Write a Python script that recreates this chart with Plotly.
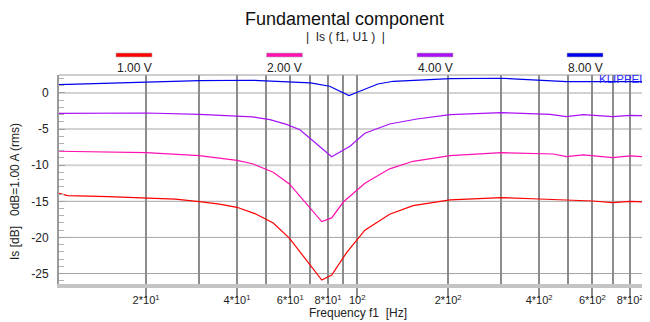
import math
import plotly.graph_objects as go

# ---------------- data ----------------
voltages = ["1.00 V", "2.00 V", "4.00 V", "8.00 V"]

freq_1v = [10.3, 11, 15, 20, 25, 30, 35, 40, 45.8, 52.7, 59.6, 76.3, 82.3, 92.2, 106, 128, 153, 203,
           300, 400, 493, 600, 700, 800, 931]
level_1v = [-13.89, -14.2, -14.35, -14.49, -14.7, -15.04, -15.4, -15.83, -16.7, -18.0, -20.1, -25.9,
            -25.2, -22.1, -19.0, -16.8, -15.6, -14.8, -14.49, -14.68, -14.8, -14.96, -15.18, -15.0, -15.14]

freq_2v = [10.3, 20, 30, 40, 45, 52.7, 59.6, 76.3, 82.3, 89.9, 106, 128, 153, 203, 300, 446, 493,
           560, 700, 800, 931]
level_2v = [-8.07, -8.26, -8.67, -9.32, -9.8, -10.98, -12.6, -17.8, -17.3, -15.1, -12.5, -10.5, -9.46,
            -8.67, -8.26, -8.45, -8.82, -8.58, -8.95, -8.72, -8.86]

freq_4v = [10.3, 20, 30, 40, 45, 51.4, 58.3, 64.6, 82.3, 94.6, 106, 128, 157.6, 203, 300, 435, 493,
           560, 700, 800, 931]
level_4v = [-2.81, -2.77, -2.95, -3.13, -3.3, -3.69, -4.34, -5.08, -8.82, -7.38, -5.58, -4.29, -3.6,
            -3.0, -2.72, -2.95, -3.27, -3.0, -3.27, -3.09, -3.18]

freq_8v = [10.3, 20, 30, 45, 60, 70, 81, 93.9, 100, 117, 131.6, 203, 300, 400, 493, 931]
level_8v = [1.16, 1.52, 1.71, 1.76, 1.58, 1.39, 0.93, -0.36, 0.1, 1.25, 1.62, 1.99, 2.04, 1.8, 1.57, 1.57]

x_major_ticks = [20, 40, 60, 80, 100, 200, 400, 600, 800]
x_major_text = ["2*10<sup>1</sup>", "4*10<sup>1</sup>", "6*10<sup>1</sup>", "8*10<sup>1</sup>",
                "10<sup>2</sup>", "2*10<sup>2</sup>", "4*10<sup>2</sup>", "6*10<sup>2</sup>",
                "8*10<sup>2</sup>"]
x_minor_ticks = [30, 50, 70, 90, 300, 500, 700, 900]
y_ticks = [0, -5, -10, -15, -20, -25]
x_range_hz = [10.3, 931]
y_range_db = [-26.45, 2.49]

# ---------------- styling ----------------
colors = ["#ff0000", "#ff10b0", "#a810f8", "#0000f0"]
FONT = "Liberation Sans, Arial, Helvetica, sans-serif"

PAGE_W, PAGE_H = 650, 322
OFF = 8  # the page body margin shifts the figure by this much; layout below is in page pixels
W, H = PAGE_W - OFF, PAGE_H - OFF   # figure fits exactly in the window, no scrollbars
PLOT_L, PLOT_R, PLOT_T, PLOT_B = 59, 650, 75, 284   # plot area in page pixels

L = PLOT_L - OFF
T = PLOT_T - OFF
R = W - (PLOT_R - OFF)
B = H - (PLOT_B - OFF)
PW = W - L - R
PH = H - T - B


def px_x(p):
    return (p - OFF - L) / PW


def px_y(p):
    return (H - B - (p - OFF)) / PH


series = [(freq_1v, level_1v), (freq_2v, level_2v), (freq_4v, level_4v), (freq_8v, level_8v)]

fig = go.Figure()
for (f, v), c, name in zip(series, colors, voltages):
    fig.add_trace(go.Scatter(x=f, y=v, mode="lines", name=name,
                             line=dict(color=c, width=1.2), hoverinfo="skip"))

shapes = []
# horizontal grid lines
for yv in y_ticks:
    light = yv > -15
    shapes.append(dict(type="line", xref="paper", yref="y", x0=0, x1=1, y0=yv, y1=yv,
                       line=dict(color="#d2d2d2" if light else "#a4a4a4", width=2 if light else 1),
                       layer="below"))
# top border
shapes.append(dict(type="line", xref="paper", yref="paper", x0=0, x1=1, y0=1, y1=1,
                   line=dict(color="#9a9a9a", width=1)))

annotations = []
# legend bars + labels
leg_centres = [134, 284.5, 435, 585]
for cx, c, name in zip(leg_centres, colors, voltages):
    shapes.append(dict(type="rect", xref="paper", yref="paper",
                       x0=px_x(cx - 18), x1=px_x(cx + 18), y0=px_y(57), y1=px_y(53),
                       fillcolor=c, line=dict(color="#b0b0b0", width=0.6)))
    annotations.append(dict(x=px_x(cx), y=px_y(68), xref="paper", yref="paper", text=name,
                            showarrow=False, xanchor="center", yanchor="middle",
                            font=dict(size=12, color="#222", family=FONT)))

annotations += [
    dict(x=px_x(344), y=px_y(19), xref="paper", yref="paper", text="Fundamental component",
         showarrow=False, xanchor="center", yanchor="middle", font=dict(size=18, color="#111", family=FONT)),
    dict(x=px_x(345), y=px_y(37), xref="paper", yref="paper", text="|  Is ( f1, U1 )  |",
         showarrow=False, xanchor="center", yanchor="middle", font=dict(size=12, color="#222", family=FONT)),
    dict(x=px_x(647), y=px_y(79.5), xref="paper", yref="paper", text="KLIPPEL",
         showarrow=False, xanchor="right", yanchor="middle", borderpad=0,
         font=dict(size=11.5, color="#2a2aff", family=FONT)),
    dict(x=px_x(15), y=px_y(192), xref="paper", yref="paper", text="Is [dB]   0dB=1.00 A (rms)",
         textangle=-90, showarrow=False, xanchor="center", yanchor="middle",
         font=dict(size=12, color="#222", family=FONT)),
    dict(x=px_x(358), y=px_y(313), xref="paper", yref="paper", text="Frequency f1  [Hz]",
         showarrow=False, xanchor="center", yanchor="middle", font=dict(size=12, color="#222", family=FONT)),
]

fig.update_layout(
    template="none",
    width=W, height=H,
    margin=dict(l=L, r=R, t=T, b=B, pad=0, autoexpand=False),
    paper_bgcolor="white", plot_bgcolor="white",
    showlegend=False,
    font=dict(family=FONT, size=12, color="#222"),
    shapes=shapes, annotations=annotations,
)

fig.update_xaxes(
    type="log", range=[math.log10(x_range_hz[0]), math.log10(x_range_hz[1])],
    automargin=False,
    tickmode="array", tickvals=x_major_ticks, ticktext=x_major_text, tickangle=0,
    showgrid=True, gridcolor="#8c8c8c", gridwidth=1.5,
    ticks="outside", ticklen=10, tickcolor="#8c8c8c", tickwidth=1.5,
    minor=dict(tickvals=x_minor_ticks, showgrid=True, gridcolor="#8c8c8c", gridwidth=1.5, ticks=""),
    showline=True, linecolor="#c4c4c4", linewidth=4,
    zeroline=False, tickfont=dict(size=11, color="#222"), ticklabelstandoff=-7,
)

fig.update_yaxes(
    range=y_range_db, automargin=False,
    tickmode="array", tickvals=y_ticks, ticktext=[str(v) for v in y_ticks],
    showgrid=False, zeroline=False,
    ticks="inside", ticklen=6, tickcolor="#a0a0a0", tickwidth=1,
    minor=dict(dtick=1, ticks="inside", ticklen=5, tickcolor="#b0b0b0", tickwidth=1, showgrid=False),
    showline=True, linecolor="#9a9a9a", linewidth=2,
    tickfont=dict(size=12, color="#222"), ticklabelstandoff=6,
)

fig.write_html("out.html")
